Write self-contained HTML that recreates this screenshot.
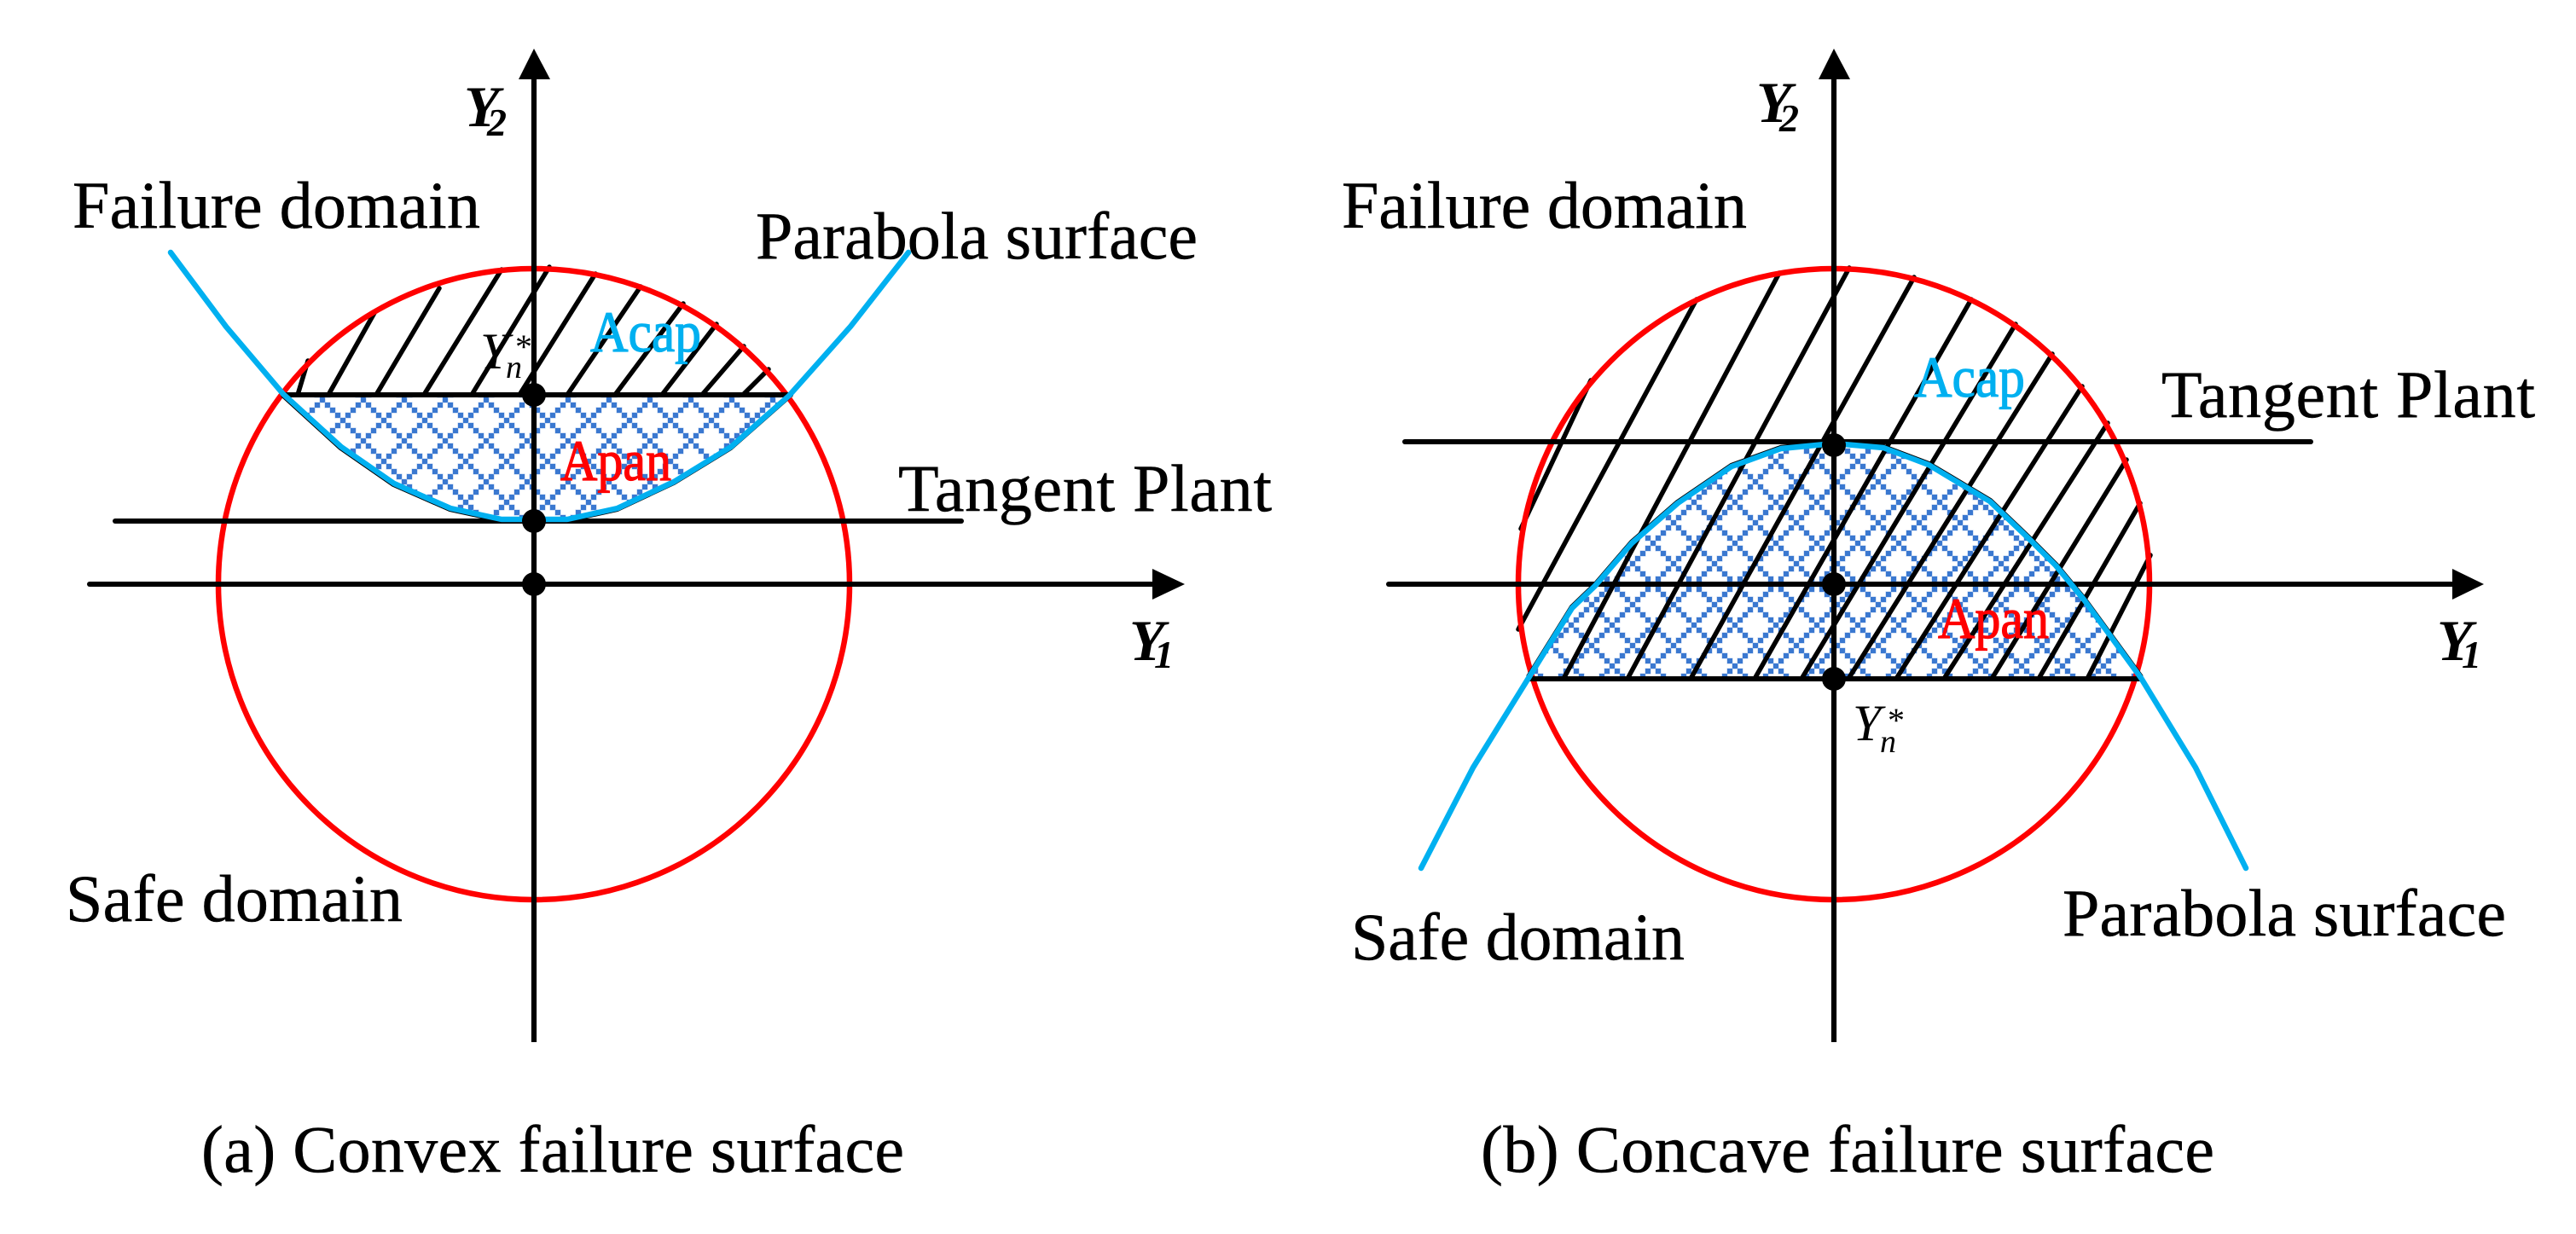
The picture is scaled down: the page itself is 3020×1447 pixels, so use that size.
<!DOCTYPE html>
<html><head><meta charset="utf-8"><style>
html,body{margin:0;padding:0;background:#fff}
svg{display:block}
text{font-family:"Liberation Serif",serif;fill:#000}
.t{font-size:78px;stroke:#000;stroke-width:.5}
.c,.r{font-size:68px}
.c{fill:#00b0f0;stroke:#00b0f0;stroke-width:1.2}
.r{fill:#f00;stroke:#f00;stroke-width:1.2}
.Y{font-size:68px;font-weight:bold;font-style:italic}
.s{font-size:46px;font-weight:bold;font-style:italic}
.y{font-size:60px;font-style:italic}
.n{font-size:38px;font-style:italic}
.a{font-size:40px}
.h{stroke:#000;stroke-width:5.5;stroke-linecap:round;fill:none}
.k{stroke:#000;stroke-width:6;stroke-linecap:round;fill:none}
.v{stroke:#000;stroke-width:6.2;fill:none}
.p{stroke:#00b0f0;stroke-width:6.5;fill:none;stroke-linejoin:round;stroke-linecap:round}
.o{stroke:#000;stroke-width:6.5;fill:none;stroke-linejoin:round}
.e{stroke:#f00;stroke-width:6.5;fill:none}
</style></head><body>
<svg width="3020" height="1447" viewBox="0 0 3020 1447" xmlns="http://www.w3.org/2000/svg">
<defs>
<g id="sq" shape-rendering="crispEdges">
<rect x="-3.5" y="-3.5" width="7" height="7" fill="#b4cbee"/>
<rect x="-3" y="-3" width="6" height="6" fill="#3a78d0"/>
</g>
<g id="tile">
<use href="#sq" x="0" y="0"/><use href="#sq" x="6" y="6"/><use href="#sq" x="12" y="12"/><use href="#sq" x="18" y="18"/><use href="#sq" x="24" y="24"/><use href="#sq" x="30" y="30"/><use href="#sq" x="36" y="36"/><use href="#sq" x="42" y="42"/>
<use href="#sq" x="6" y="42"/><use href="#sq" x="12" y="36"/><use href="#sq" x="18" y="30"/><use href="#sq" x="30" y="18"/><use href="#sq" x="36" y="12"/><use href="#sq" x="42" y="6"/>
<use href="#sq" x="48" y="0"/><use href="#sq" x="0" y="48"/><use href="#sq" x="48" y="48"/>
</g>
<pattern id="pa" width="48" height="48" patternUnits="userSpaceOnUse" patternTransform="translate(402 493)"><use href="#tile"/></pattern>
<pattern id="pb" width="48" height="48" patternUnits="userSpaceOnUse" patternTransform="translate(1914 709)"><use href="#tile"/></pattern>
</defs>
<rect width="3020" height="1447" fill="#fff"/>

<!-- Panel A -->
<path d="M332,462 L400,524 L462,567 L528,596 L588,609 L665,609 L724,596 L790,565 L857,524 L925,464 Z" fill="url(#pa)"/>
<g class="h">
<path d="M349,463 L361,423"/><path d="M385,463 L440,365"/><path d="M441,463 L515,338"/><path d="M497,463 L588,316"/><path d="M553,463 L644,313"/><path d="M609,463 L698,321"/><path d="M665,463 L751,336"/><path d="M721,463 L801,356"/><path d="M776,463 L840,380"/><path d="M823,463 L872,406"/><path d="M871,463 L901,433"/>
</g>
<circle class="e" cx="626" cy="685" r="370"/>
<path class="k" d="M332,463 H927"/>
<path class="k" d="M135,611 H1127"/>
<path class="k" d="M105,685 H1355"/>
<path class="v" d="M626,90 V1222"/>
<polygon points="1389,685 1351,667 1351,703"/>
<polygon points="626,57 608,93 645,93"/>
<polyline class="o" transform="translate(-.5 .8)" points="332,462 400,524 462,567 528,596 588,609 665,609 724,596 790,565 857,524 925,464"/>
<polyline class="p" points="200,296 265,383 332,462 400,524 462,567 528,596 588,609 665,609 724,596 790,565 857,524 925,464 997,383 1065,296"/>
<circle cx="626" cy="463" r="14"/><circle cx="626" cy="611" r="14"/><circle cx="626" cy="685" r="14"/>

<text class="t" x="85" y="267" textLength="478">Failure domain</text>
<text class="t" x="886" y="303" textLength="518">Parabola surface</text>
<text class="t" x="1053" y="599" textLength="438">Tangent Plant</text>
<text class="t" x="77" y="1080" textLength="395">Safe domain</text>
<text class="t" x="236" y="1374" textLength="824">(a) Convex failure surface</text>
<text class="c" x="692" y="412" textLength="130" lengthAdjust="spacingAndGlyphs">Acap</text>
<text class="r" x="657" y="563" textLength="130" lengthAdjust="spacingAndGlyphs">Apan</text>
<text class="y" x="563" y="432">Y</text><text class="n" x="593" y="443">n</text><text class="a" x="604" y="420">*</text>
<text class="Y" x="544" y="148">Y</text><text class="s" x="571" y="159">2</text>
<text class="Y" x="1324" y="774">Y</text><text class="s" x="1353" y="783">1</text>

<!-- Panel B -->
<path d="M1792,795 L1843,713 L1870,687 L1913,637 L1967,590 L2030,547 L2088,526 L2150,519 L2208,525 L2261,545 L2333,588 L2380,633 L2410,663 L2443,703 L2470,740 L2510,795 Z" fill="url(#pb)"/>
<g class="h">
<path d="M1783,620 L1865,446"/><path d="M1780,738 L1989,351"/><path d="M1833,796 L2086,320"/><path d="M1908,796 L2168,314"/><path d="M1982,796 L2244,325"/><path d="M2057,796 L2311,351"/><path d="M2112,796 L2363,380"/><path d="M2167,796 L2406,415"/><path d="M2223,796 L2441,453"/><path d="M2279,796 L2471,496"/><path d="M2335,796 L2493,539"/><path d="M2390,796 L2509,590"/><path d="M2447,796 L2521,651"/>
</g>
<circle class="e" cx="2150" cy="685" r="370"/>
<path class="k" d="M1792,796 H2509"/>
<path class="k" d="M1647,518 H2709"/>
<path class="k" d="M1628,685 H2880"/>
<path class="v" d="M2150,90 V1222"/>
<polygon points="2912,685 2875,667 2875,703"/>
<polygon points="2150,57 2132,93 2169,93"/>
<polyline class="o" transform="translate(0 -1)" points="1792,795 1843,713 1870,687 1913,637 1967,590 2030,547 2088,526 2150,520 2208,525 2261,545 2333,588 2380,633 2410,663 2443,703 2470,740 2510,795"/>
<polyline class="p" points="1666,1018 1727,900 1792,795 1843,713 1870,687 1913,637 1967,590 2030,547 2088,526 2150,520 2208,525 2261,545 2333,588 2380,633 2410,663 2443,703 2470,740 2510,795 2574,900 2633,1018"/>
<circle cx="2150" cy="522" r="14"/><circle cx="2150" cy="685" r="14"/><circle cx="2150" cy="796" r="14"/>

<text class="t" x="1573" y="267" textLength="475">Failure domain</text>
<text class="t" x="2534" y="489" textLength="438">Tangent Plant</text>
<text class="t" x="2418" y="1097" textLength="520">Parabola surface</text>
<text class="t" x="1584" y="1125" textLength="391">Safe domain</text>
<text class="t" x="1736" y="1374" textLength="860">(b) Concave failure surface</text>
<text class="c" x="2244" y="465" textLength="130" lengthAdjust="spacingAndGlyphs">Acap</text>
<text class="r" x="2272" y="748" textLength="130" lengthAdjust="spacingAndGlyphs">Apan</text>
<text class="y" x="2172" y="868">Y</text><text class="n" x="2204" y="882">n</text><text class="a" x="2213" y="858">*</text>
<text class="Y" x="2059" y="143">Y</text><text class="s" x="2086" y="154">2</text>
<text class="Y" x="2857" y="774">Y</text><text class="s" x="2886" y="783">1</text>
</svg>
</body></html>
